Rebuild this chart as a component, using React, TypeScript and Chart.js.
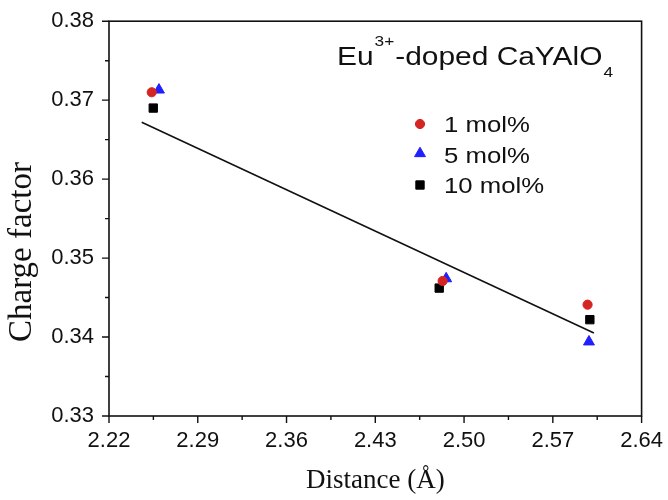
import React, { useEffect, useRef } from "react";
import { Chart, registerables } from "chart.js";
import { drawPoint } from "chart.js/helpers";

Chart.register(...registerables);

const xTickValues = [2.22, 2.29, 2.36, 2.43, 2.5, 2.57, 2.64];
const xTickLabels = ["2.22", "2.29", "2.36", "2.43", "2.50", "2.57", "2.64"];
const yTickValues = [0.33, 0.34, 0.35, 0.36, 0.37, 0.38];
const yTickLabels = ["0.33", "0.34", "0.35", "0.36", "0.37", "0.38"];

const seriesNames = ["1 mol%", "5 mol%", "10 mol%"];
const dist1 = [2.2537, 2.4831, 2.5974];
const charge1 = [0.371, 0.3471, 0.3441];
const dist5 = [2.2594, 2.4859, 2.5985];
const charge5 = [0.3713, 0.3474, 0.3394];
const dist10 = [2.2549, 2.4804, 2.5992];
const charge10 = [0.369, 0.3462, 0.3422];
const fitDist = [2.2458, 2.6024];
const fitCharge = [0.3672, 0.3405];

const xTitle = "Distance (Å)";
const yTitle = "Charge factor";
const titleMain = "Eu";
const titleSup = "3+";
const titleRest = "-doped CaYAlO";
const titleSub = "4";

const colors = ["#d42424", "#1f1fff", "#000000"];
const styles = ["circle", "triangle", "rect"];
const radii = [4.6, 6.3, 5.9];

const pts = (xs: number[], ys: number[]) => xs.map((x, i) => ({ x, y: ys[i] }));

const SANS = "'Liberation Sans', Arial, sans-serif";
const SERIF = "'Liberation Serif', 'Times New Roman', serif";

const framePlugin = {
  id: "framePlugin",
  afterDraw(chart: any) {
    const { ctx, chartArea: a, scales } = chart;
    const xs = scales.x;
    const ys = scales.y;
    ctx.save();
    ctx.strokeStyle = "#111";
    ctx.lineWidth = 1.6;
    ctx.strokeRect(a.left, a.top, a.right - a.left, a.bottom - a.top);
    ctx.lineWidth = 1.4;
    ctx.beginPath();
    for (let i = 0; i < xTickValues.length; i++) {
      const px = xs.getPixelForValue(xTickValues[i]);
      ctx.moveTo(px, a.bottom);
      ctx.lineTo(px, a.bottom + 7);
      if (i < xTickValues.length - 1) {
        const mx = xs.getPixelForValue((xTickValues[i] + xTickValues[i + 1]) / 2);
        ctx.moveTo(mx, a.bottom);
        ctx.lineTo(mx, a.bottom + 4);
      }
    }
    for (let i = 0; i < yTickValues.length; i++) {
      const py = ys.getPixelForValue(yTickValues[i]);
      ctx.moveTo(a.left, py);
      ctx.lineTo(a.left - 7, py);
      if (i < yTickValues.length - 1) {
        const my = ys.getPixelForValue((yTickValues[i] + yTickValues[i + 1]) / 2);
        ctx.moveTo(a.left, my);
        ctx.lineTo(a.left - 4, my);
      }
    }
    ctx.stroke();

    // y-axis title
    ctx.fillStyle = "#111";
    ctx.save();
    ctx.font = `33px ${SERIF}`;
    ctx.textAlign = "center";
    ctx.textBaseline = "alphabetic";
    ctx.translate(31, 252);
    ctx.rotate(-Math.PI / 2);
    ctx.fillText(yTitle, 0, 0);
    ctx.restore();

    // annotation title
    const sx = 1.15;
    ctx.textBaseline = "alphabetic";
    ctx.textAlign = "left";
    const put = (t: string, x: number, y: number, size: number) => {
      ctx.font = `${size}px ${SANS}`;
      ctx.save();
      ctx.translate(x, y);
      ctx.scale(sx, 1);
      ctx.fillText(t, 0, 0);
      ctx.restore();
      return ctx.measureText(t).width * sx;
    };
    let tx = 337;
    tx += put(titleMain, tx, 65, 26) + 1;
    tx += put(titleSup, tx, 46, 15) + 1;
    tx += put(titleRest, tx, 65, 26) + 1;
    put(titleSub, tx, 77, 15);

    // legend
    const ly = [124, 155, 185];
    for (let i = 0; i < seriesNames.length; i++) {
      ctx.fillStyle = colors[i];
      ctx.strokeStyle = colors[i];
      ctx.lineWidth = 1;
      drawPoint(ctx, { pointStyle: styles[i], radius: radii[i], rotation: 0, borderWidth: 1 } as any, 420, ly[i] + (i === 1 ? -1.5 : 0));
      ctx.fillStyle = "#111";
      ctx.save();
      ctx.font = `22px ${SANS}`;
      ctx.translate(444, ly[i] + 8);
      ctx.scale(1.17, 1);
      ctx.fillText(seriesNames[i], 0, 0);
      ctx.restore();
    }
    ctx.restore();
  },
};

export default function App() {
  const ref = useRef<HTMLCanvasElement | null>(null);
  useEffect(() => {
    if (!ref.current) return;
    const mk = (i: number, xs: number[], ys: number[]) => ({
      type: "scatter" as const,
      label: seriesNames[i],
      data: pts(xs, ys),
      pointStyle: styles[i],
      pointRadius: radii[i],
      backgroundColor: colors[i],
      borderColor: colors[i],
      borderWidth: 1,
      order: 1,
    });
    const chart = new Chart(ref.current, {
      type: "scatter",
      data: {
        datasets: [
          mk(0, dist1, charge1),
          mk(1, dist5, charge5),
          mk(2, dist10, charge10),
          {
            type: "line",
            label: "fit",
            data: pts(fitDist, fitCharge),
            borderColor: "#111",
            borderWidth: 1.6,
            pointRadius: 0,
            showLine: true,
            fill: false,
            order: 10,
          } as any,
        ],
      },
      options: {
        animation: false,
        responsive: true,
        maintainAspectRatio: false,
        layout: { padding: { top: 20, right: 26, left: 0, bottom: 0 } },
        plugins: { legend: { display: false }, tooltip: { enabled: false } },
        scales: {
          x: {
            type: "linear",
            min: 2.22,
            max: 2.64,
            afterFit: (s: any) => {
              s.height = 84;
            },
            afterBuildTicks: (s: any) => {
              s.ticks = xTickValues.map((v) => ({ value: v }));
            },
            ticks: {
              autoSkip: false,
              maxRotation: 0,
              color: "#111",
              font: { family: SANS, size: 22 },
              padding: 5,
              callback: (v: any) => {
                const i = xTickValues.findIndex((t) => Math.abs(t - v) < 1e-6);
                return i >= 0 ? xTickLabels[i] : "";
              },
            },
            grid: { display: true, drawOnChartArea: false, drawTicks: true, tickLength: 7, color: "rgba(0,0,0,0)" },
            border: { display: false },
            title: {
              display: true,
              text: xTitle,
              color: "#111",
              font: { family: SERIF, size: 27 },
              padding: { top: 0, bottom: 3 },
            },
          },
          y: {
            type: "linear",
            min: 0.33,
            max: 0.38,
            afterFit: (s: any) => {
              s.width = 109;
            },
            afterBuildTicks: (s: any) => {
              s.ticks = yTickValues.map((v) => ({ value: v }));
            },
            ticks: {
              autoSkip: false,
              color: "#111",
              font: { family: SANS, size: 22 },
              padding: 8,
              callback: (v: any) => {
                const i = yTickValues.findIndex((t) => Math.abs(t - v) < 1e-6);
                return i >= 0 ? yTickLabels[i] : "";
              },
            },
            grid: { display: true, drawOnChartArea: false, drawTicks: true, tickLength: 7, color: "rgba(0,0,0,0)" },
            border: { display: false },
            title: { display: false, text: yTitle },
          },
        },
      },
      plugins: [framePlugin],
    });
    return () => chart.destroy();
  }, []);
  return (
    <div style={{ position: "absolute", left: 0, top: 0, width: 668, height: 500, background: "#fff" }}>
      <canvas ref={ref} />
    </div>
  );
}
